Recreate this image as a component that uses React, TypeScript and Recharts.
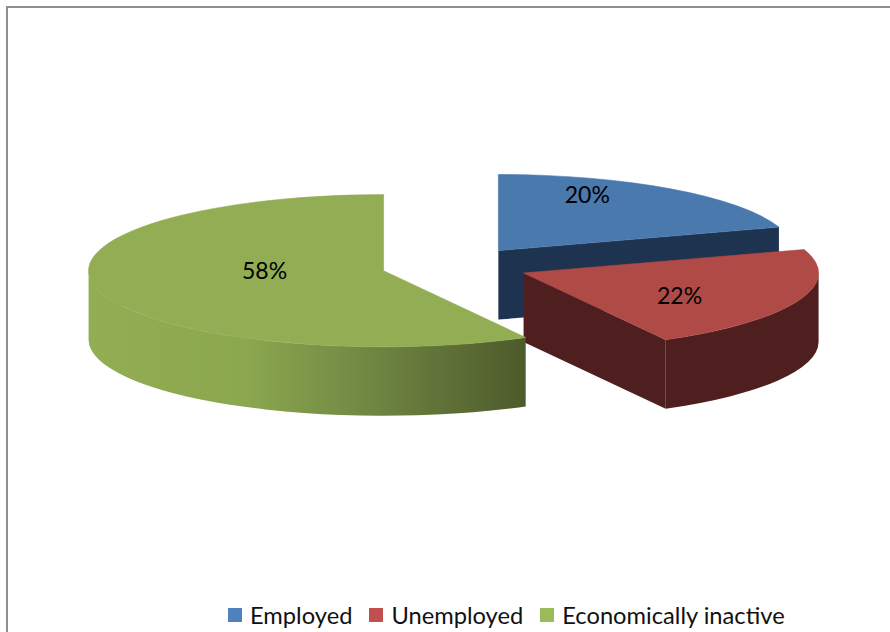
import { PieChart, Pie, Legend } from 'recharts';

const categories = ['Employed', 'Unemployed', 'Economically inactive'];
const shares = [20, 22, 58];
const legendColors = ['#4f81bd', '#c0504d', '#9bbb59'];
const topColors = ['#4a79ae', '#b04a47', '#92ad53'];
const wallColors = ['#1e334f', '#4f1f1f', '#4d5a2b'];

const data = categories.map((name, i) => ({ name, value: shares[i], fill: legendColors[i] }));

const TILT = 0.258; // vertical squash of the pie disc
const DEPTH = 69;
const EXPLODE = 0.25;

// label nudges from the exploded slice centre, in px
const labelOffsets = [
  [89, -57],
  [156, 22],
  [-119, -1],
];

const Slice3D = (props: any) => {
  const { cx, cy, outerRadius: r, startAngle, endAngle, midAngle, index } = props;
  const ry = r * TILT;
  const rad = (a: number) => (a * Math.PI) / 180;
  const ox = cx + EXPLODE * r * Math.cos(rad(midAngle));
  const oy = cy - EXPLODE * ry * Math.sin(rad(midAngle));
  const pt = (a: number) => [ox + r * Math.cos(rad(a)), oy - ry * Math.sin(rad(a))];

  const [sx, sy] = pt(startAngle);
  const [ex, ey] = pt(endAngle);
  const large = startAngle - endAngle > 180 ? 1 : 0;
  const wallFill = index === 2 ? 'url(#greenWall)' : wallColors[index];

  // the part of the rim facing the viewer lies between 0 and -180 degrees
  const from = Math.min(startAngle, 0);
  const to = Math.max(endAngle, -180);
  const hasRim = from > to;
  let rim = '';
  if (hasRim) {
    const [ax, ay] = pt(from);
    const [bx, by] = pt(to);
    rim = `M${ax},${ay} A${r},${ry} 0 0 1 ${bx},${by} L${bx},${by + DEPTH} A${r},${ry} 0 0 0 ${ax},${ay + DEPTH} Z`;
  }
  const endFaceVisible = Math.sin(rad(90 - endAngle)) > 0.01;
  const startFaceVisible = Math.sin(rad(90 - startAngle)) < -0.01;

  return (
    <g>
      <defs>
        <linearGradient id="greenWall" x1="0" y1="0" x2="1" y2="0">
          <stop offset="0" stopColor="#92ad53" />
          <stop offset="0.35" stopColor="#8ca84f" />
          <stop offset="0.6" stopColor="#748c45" />
          <stop offset="1" stopColor="#4d5a2b" />
        </linearGradient>
      </defs>
      {endFaceVisible && (
        <path d={`M${ox},${oy} L${ex},${ey} L${ex},${ey + DEPTH} L${ox},${oy + DEPTH} Z`} fill={wallColors[index]} />
      )}
      {startFaceVisible && (
        <path d={`M${ox},${oy} L${sx},${sy} L${sx},${sy + DEPTH} L${ox},${oy + DEPTH} Z`} fill={wallColors[index]} />
      )}
      {hasRim && <path d={rim} fill={wallFill} />}
      <path
        d={`M${ox},${oy} L${sx},${sy} A${r},${ry} 0 ${large} 1 ${ex},${ey} Z`}
        fill={topColors[index]}
        stroke={topColors[index]}
        strokeWidth={0.6}
      />
    </g>
  );
};

const renderLabel = (props: any) => {
  const { cx, cy, outerRadius: r, midAngle, index, value } = props;
  const rad = (midAngle * Math.PI) / 180;
  const ox = cx + EXPLODE * r * Math.cos(rad);
  const oy = cy - EXPLODE * r * TILT * Math.sin(rad);
  return (
    <text
      x={ox + labelOffsets[index][0]}
      y={oy + labelOffsets[index][1]}
      textAnchor="middle"
      dominantBaseline="central"
      fontFamily="Lato, sans-serif"
      fontSize={23}
      fill="#000"
    >
      {value}%
    </text>
  );
};

const renderLegend = () => (
  <div style={{ display: 'flex', fontFamily: 'Lato, sans-serif', fontSize: 23.7, color: '#111', lineHeight: '26px' }}>
    {categories.map((name, i) => (
      <div key={name} style={{ display: 'flex', alignItems: 'center', marginRight: 17 }}>
        <span style={{ width: 14, height: 14, background: legendColors[i], marginRight: 8 }} />
        <span style={{ whiteSpace: 'nowrap' }}>{name}</span>
      </div>
    ))}
  </div>
);

export default function App() {
  return (
    <div style={{ position: 'absolute', left: 0, top: 0, width: 890, height: 632, overflow: 'hidden', background: '#fff' }}>
      <div style={{ position: 'absolute', left: 6, top: 6, width: 884, height: 626, borderTop: '2px solid #8e8e8e', borderLeft: '2px solid #8e8e8e', boxSizing: 'border-box' }} />
      <PieChart width={890} height={632} margin={{ top: 0, right: 0, bottom: 0, left: 0 }} style={{ position: 'absolute', left: 0, top: 0 }}>
        <Pie
          data={data}
          dataKey="value"
          nameKey="name"
          cx={455}
          cy={266}
          outerRadius={295}
          startAngle={90}
          endAngle={-270}
          stroke="none"
          shape={Slice3D}
          label={renderLabel}
          labelLine={false}
          isAnimationActive={false}
        />
        <Legend content={renderLegend} wrapperStyle={{ position: 'absolute', left: 228, top: 602, width: 640, bottom: 'auto' }} />
      </PieChart>
    </div>
  );
}
